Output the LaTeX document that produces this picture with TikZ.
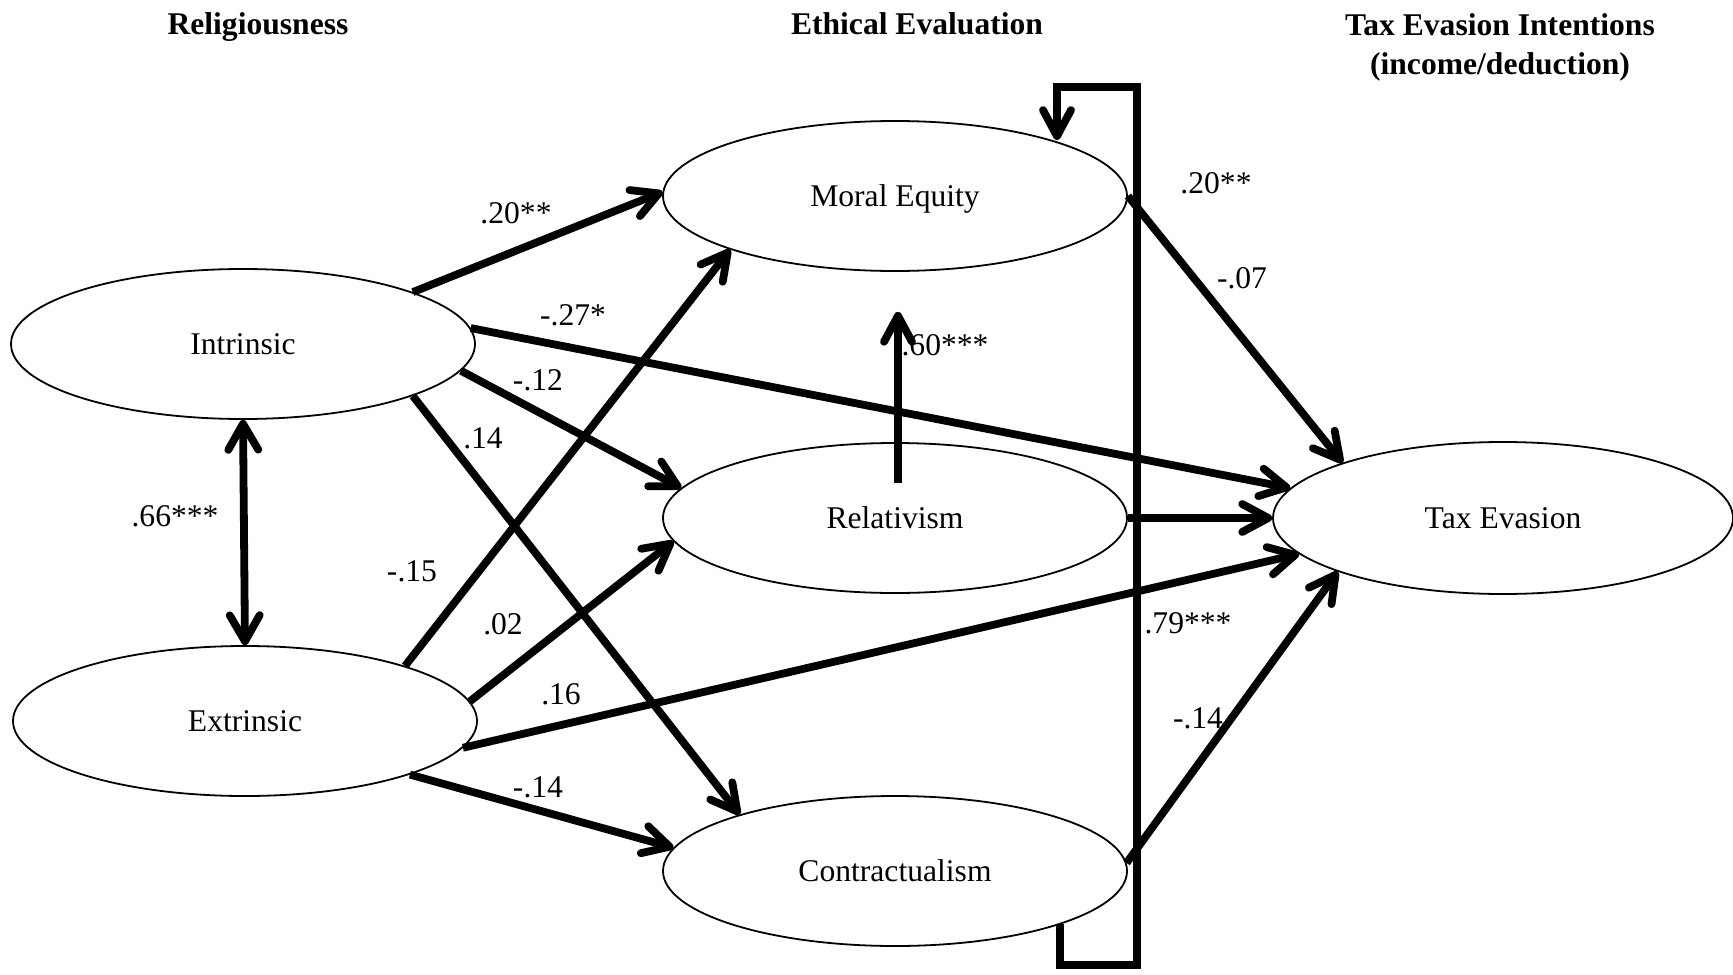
\documentclass[tikz,border=0pt]{standalone}
\usepackage{fontspec}
\setmainfont{Liberation Serif}
\usetikzlibrary{arrows.meta,calc,shapes.geometric}
\begin{document}
\begin{tikzpicture}[x=0.5pt,y=-0.5pt,
  latent/.style={draw,ellipse,line width=0.9pt,minimum width=232pt,minimum height=75pt,
    inner sep=0pt,text height=10.4pt,text depth=0pt,font=\fontsize{15.8}{18}\selectfont},
  effect/.style={line width=3.9pt,-{Straight Barb[length=13pt,width=14pt,round]}},
  corr/.style={line width=3.9pt,{Straight Barb[length=13pt,width=15pt,round]}-{Straight Barb[length=13pt,width=15pt,round]}},
  coef/.style={font=\fontsize{15.8}{18}\selectfont,inner sep=0pt},
  head/.style={font=\fontsize{15.8}{18}\selectfont\bfseries,inner sep=0pt,anchor=base}]
\useasboundingbox (0,0) rectangle (1733,974);

% column headings
\node[head] (hrel) at (258,35) {Religiousness};
\node[head] (heth) at (917,35) {Ethical Evaluation};
\node[head] (htax) at (1500,36) {Tax Evasion Intentions};
\node[head] (htax2) at (1500,75) {(income/deduction)};

% latent constructs
\node[latent] (intr) at (243,344) {Intrinsic};
\node[latent] (extr) at (245,721) {Extrinsic};
\node[latent] (meq) at (895,196) {Moral Equity};
\node[latent] (rel) at (895,518) {Relativism};
\node[latent] (con) at (895,871) {Contractualism};
\node[latent,minimum width=230pt,minimum height=76pt] (tax) at (1503,518) {Tax Evasion};

% religiousness -> ethical evaluation / tax evasion
\draw[effect] (intr.17.7) -- (meq.179);
\draw[effect] (intr.4) -- (tax.172.5);
\draw[effect] (intr.-7.9) -- (rel.172.8);
\draw[effect] (intr.-17) -- (con.160);
\draw[effect] (extr.19) -- (meq.198);
\draw[effect] (extr.5.5) -- (rel.186);
\draw[effect] (extr.-7) -- (tax.190);
\draw[effect] (extr.-18) -- (con.174);
\draw[corr] (intr.south) -- (extr.north);

% relativism -> moral equity
\draw[effect] ($(rel.center)+(3,-35)$) -- ($(meq.south)+(3,40)$);

% ethical evaluation -> tax evasion
\draw[effect] (meq.east) -- (tax.161.4);
\draw[effect] (rel.east) -- (tax.west);
\draw[effect] (con.2) -- (tax.198.6);

% contractualism -> moral equity, routed round the right
\coordinate (loopBL) at (1060,965);
\coordinate (loopTR) at (1137,87);
\draw[effect,line join=miter] ($(con.center)+(165,53)$) -- (loopBL) -| (loopTR) -| ($(meq.center)+(162,-56)$);

% path coefficients
\node[coef] (c1) at (516,213) {.20**};
\node[coef] (c2) at (573,315) {-.27*};
\node[coef] (c3) at (538,380) {-.12};
\node[coef] (c4) at (483,438) {.14};
\node[coef] (c5) at (412,571) {-.15};
\node[coef] (c6) at (503,624) {.02};
\node[coef] (c7) at (561,694) {.16};
\node[coef] (c8) at (538,787) {-.14};
\node[coef] (c9) at (175,516) {.66***};
\node[coef] (c10) at (945,345) {.60***};
\node[coef] (c11) at (1216,183) {.20**};
\node[coef] (c12) at (1242,278) {-.07};
\node[coef] (c13) at (1188,623) {.79***};
\node[coef] (c14) at (1198,718) {-.14};
\end{tikzpicture}
\end{document}
